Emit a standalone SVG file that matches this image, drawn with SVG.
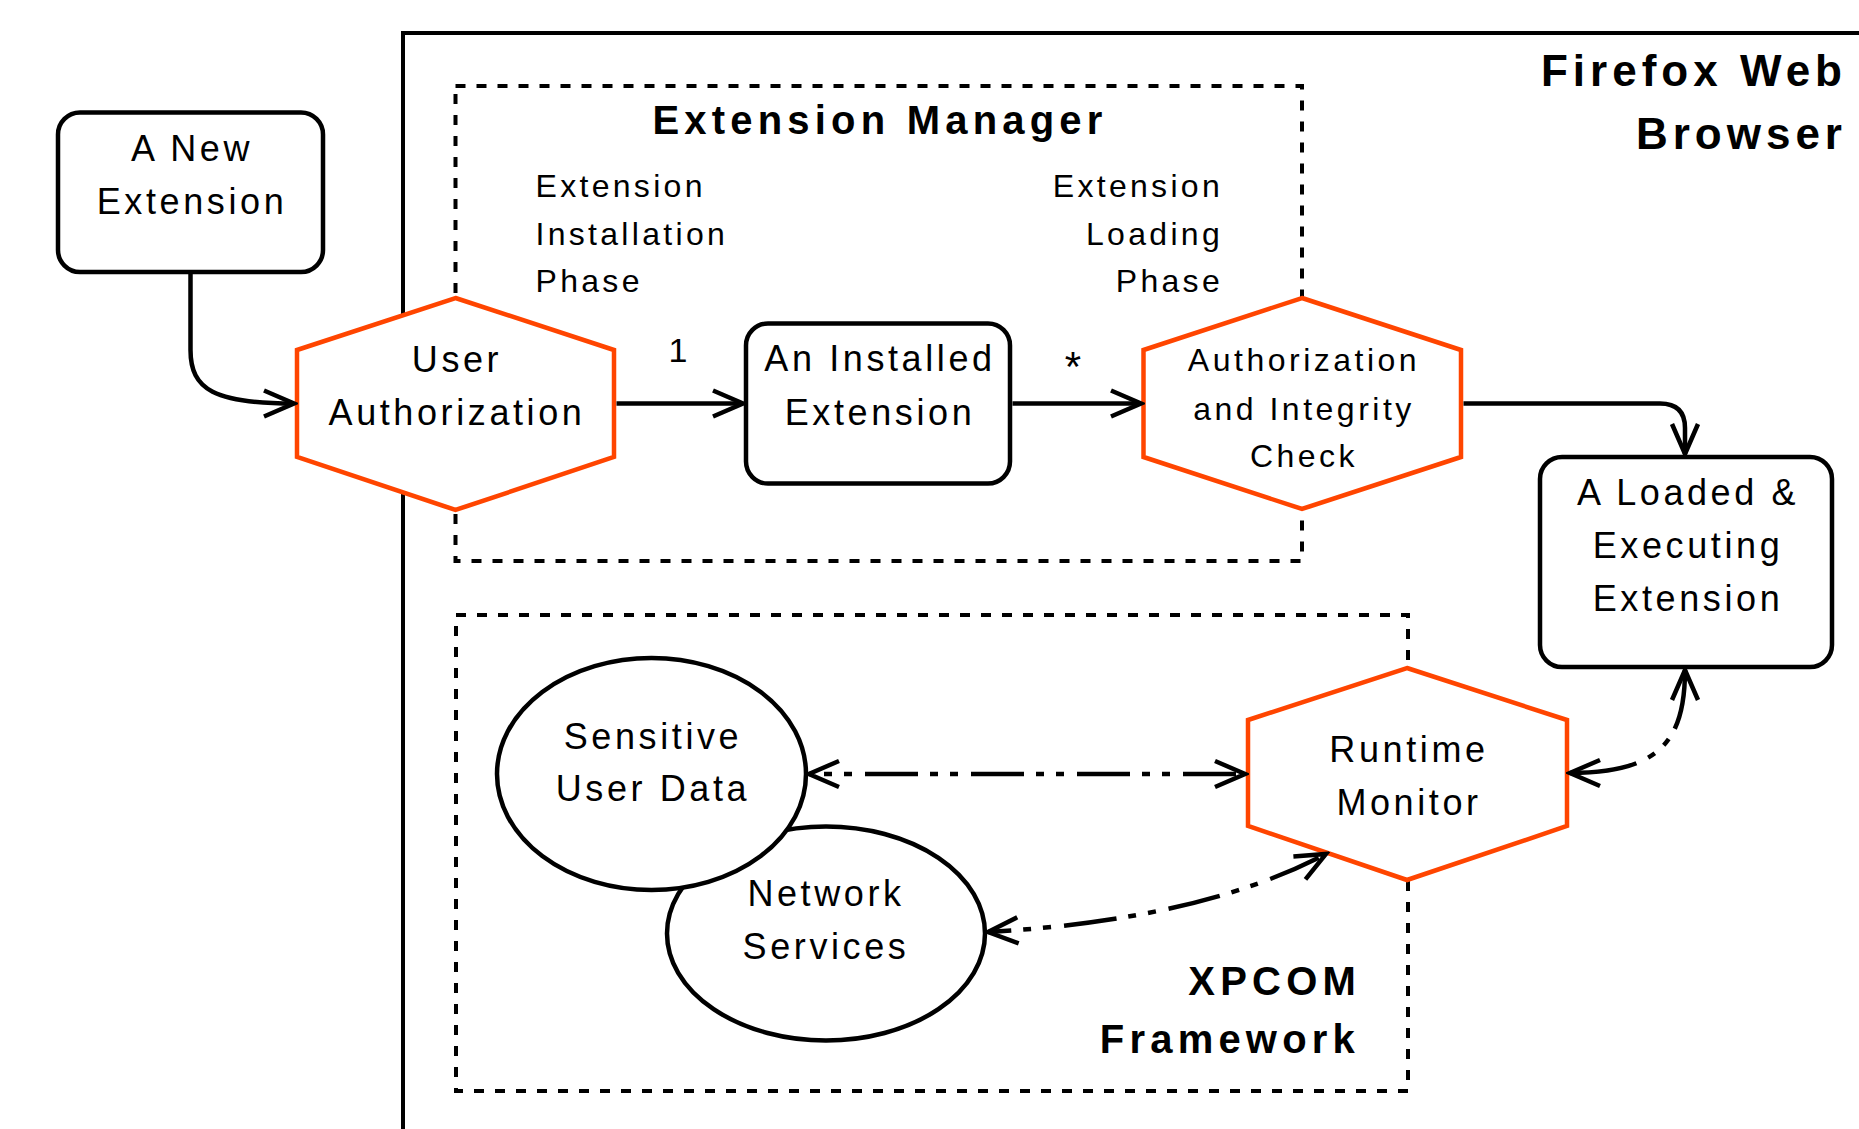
<svg xmlns="http://www.w3.org/2000/svg" width="1859" height="1129" viewBox="0 0 1859 1129">
<style>
.frame{fill:none;stroke:#000;stroke-width:4}
.group{fill:none;stroke:#000;stroke-width:4;stroke-dasharray:10 11}
.box{fill:#fff;stroke:#000;stroke-width:4.5}
.hex{fill:#fff;stroke:#FF4500;stroke-width:4.5;stroke-linejoin:miter}
.ell{fill:#fff;stroke:#000;stroke-width:4.5}
.con{fill:none;stroke:#000;stroke-width:4.5}
.dd{stroke-dasharray:53 12 8 12 8 13}
text{font-family:"Liberation Sans",Arial,sans-serif;fill:#000}
.t{font-size:36px;letter-spacing:3.6px;text-anchor:middle}
.s{font-size:32px;letter-spacing:3.3px}
.h{font-size:32px;letter-spacing:3.5px;text-anchor:middle}
.b{font-size:40px;font-weight:bold;letter-spacing:5.2px}
.ff{font-size:44px;font-weight:bold;letter-spacing:5px;text-anchor:end}
</style>
<defs>
<marker id="arr" viewBox="-34 -17 38 34" refX="0" refY="0" markerWidth="38" markerHeight="34" markerUnits="userSpaceOnUse" orient="auto-start-reverse">
<path d="M-30,-13 L0,0 L-30,13" fill="none" stroke="#000" stroke-width="4.5"/>
</marker>
</defs>

<g id="firefox-browser">
<path class="frame" d="M403,1135 V33 H1865"/>
<text class="ff" x="1847" y="86">Firefox Web</text>
<text class="ff" x="1847" y="149">Browser</text>
</g>

<g id="extension-manager">
<rect class="group" x="455.5" y="86" width="846.5" height="475"/>
<text class="b" x="880" y="134" text-anchor="middle">Extension Manager</text>
<text class="s" x="535.5" y="197">Extension</text>
<text class="s" x="535.5" y="245">Installation</text>
<text class="s" x="535.5" y="292">Phase</text>
<text class="s" x="1223" y="197" text-anchor="end">Extension</text>
<text class="s" x="1223" y="245" text-anchor="end">Loading</text>
<text class="s" x="1223" y="292" text-anchor="end">Phase</text>
</g>

<g id="xpcom-framework">
<rect class="group" x="456" y="615" width="952" height="476"/>
<text class="b" x="1361" y="995" text-anchor="end">XPCOM</text>
<text class="b" x="1360" y="1053" text-anchor="end">Framework</text>
</g>

<g id="new-extension">
<rect class="box" x="58" y="112.5" width="265" height="159.5" rx="22"/>
<text class="t" x="192" y="161">A New</text>
<text class="t" x="192" y="214">Extension</text>
</g>

<g id="user-authorization">
<polygon class="hex" points="455.5,298 614,350 614,457 455.5,510 297,457 297,350"/>
<text class="t" x="457" y="372">User</text>
<text class="t" x="457" y="425">Authorization</text>
</g>

<g id="installed-extension">
<rect class="box" x="746" y="323.5" width="264" height="160" rx="22"/>
<text class="t" x="880" y="371">An Installed</text>
<text class="t" x="880" y="425">Extension</text>
</g>

<g id="authorization-integrity-check">
<polygon class="hex" points="1302,298 1461,350 1461,457 1302,509 1143.5,457 1143.5,350"/>
<text class="h" x="1304" y="371">Authorization</text>
<text class="h" x="1304" y="420">and Integrity</text>
<text class="h" x="1304" y="467">Check</text>
</g>

<g id="loaded-extension">
<rect class="box" x="1540" y="457" width="292" height="210" rx="22"/>
<text class="t" x="1688" y="505">A Loaded &amp;</text>
<text class="t" x="1688" y="558">Executing</text>
<text class="t" x="1688" y="611">Extension</text>
</g>

<g id="runtime-monitor">
<polygon class="hex" points="1407,668 1567,720 1567,826 1407,880 1248,826 1248,720"/>
<text class="t" x="1409" y="762">Runtime</text>
<text class="t" x="1409" y="815">Monitor</text>
</g>

<g id="network-services">
<ellipse class="ell" cx="826" cy="933.5" rx="159" ry="107"/>
<text class="t" x="826" y="906">Network</text>
<text class="t" x="826" y="959">Services</text>
</g>

<g id="sensitive-user-data">
<ellipse class="ell" cx="651.5" cy="774" rx="154.5" ry="116"/>
<text class="t" x="653" y="749">Sensitive</text>
<text class="t" x="653" y="801">User Data</text>
</g>

<g id="connectors">
<path class="con" d="M190.5,272 V350 C190.5,390 215,403.5 294,403.5" marker-end="url(#arr)"/>
<path class="con" d="M616.5,403.5 H743" marker-end="url(#arr)"/>
<text class="t" x="678" y="362" style="font-size:34px;letter-spacing:0">1</text>
<path class="con" d="M1012.5,403.5 H1141" marker-end="url(#arr)"/>
<text class="t" x="1073" y="381" style="font-size:42px;letter-spacing:0">*</text>
<path class="con" d="M1463.5,403.5 H1660 Q1685,403.5 1685,428 V454" marker-end="url(#arr)"/>
<path class="con dd" style="stroke-dashoffset:50" d="M809,774 H1245" marker-start="url(#arr)" marker-end="url(#arr)"/>
<path class="con dd" style="stroke-dashoffset:30" d="M988,932 Q1200,920 1326,854" marker-start="url(#arr)" marker-end="url(#arr)"/>
<path class="con" style="stroke-dasharray:60 12 8 12 8 13 80" d="M1685,670 C1685,740 1660,773 1570,773" marker-start="url(#arr)" marker-end="url(#arr)"/>
</g>
</svg>
